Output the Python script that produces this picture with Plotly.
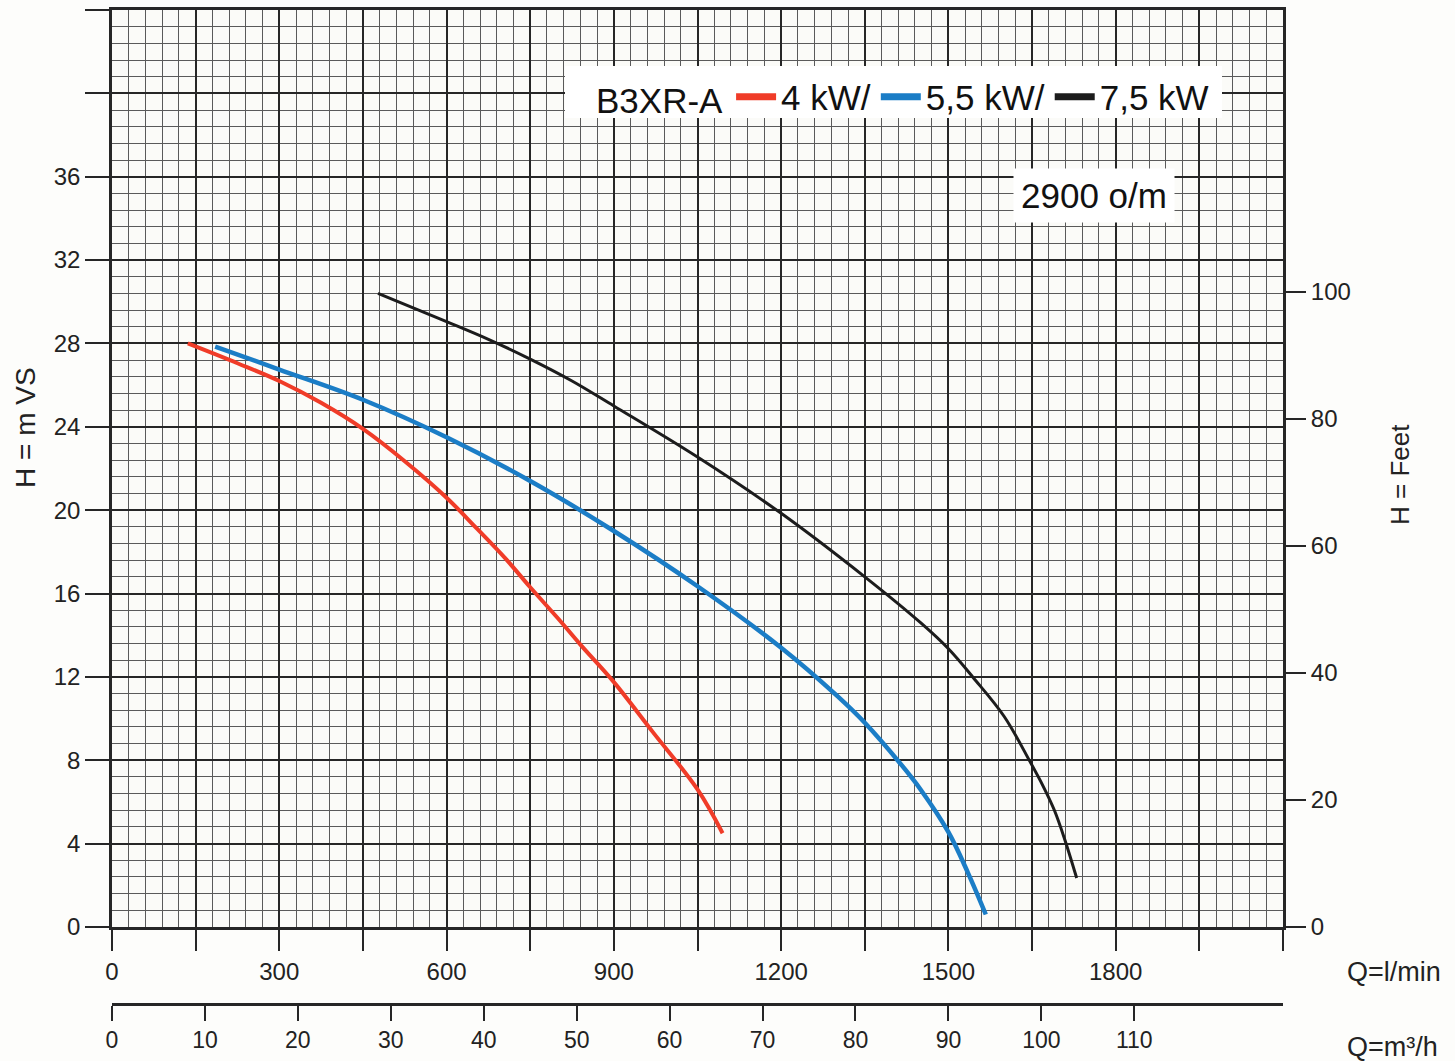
import plotly.graph_objects as go

# ---- data ----
red_q = [136, 225, 300, 375, 450, 525, 600, 655, 705, 750, 800, 840, 900, 970, 1050, 1095]
red_h = [28.0, 27.05, 26.2, 25.15, 23.9, 22.35, 20.6, 19.1, 17.7, 16.3, 14.8, 13.55, 11.75, 9.35, 6.6, 4.5]

blue_q = [185, 300, 450, 600, 750, 900, 1050, 1200, 1300, 1350, 1415, 1450, 1500, 1535, 1567]
blue_h = [27.85, 26.75, 25.3, 23.5, 21.4, 19.0, 16.35, 13.4, 11.1, 9.8, 7.8, 6.6, 4.55, 2.6, 0.6]

black_q = [477, 600, 675, 750, 825, 900, 1050, 1200, 1350, 1450, 1500, 1545, 1600, 1647, 1670, 1690, 1708, 1730]
black_h = [30.4, 29.05, 28.2, 27.25, 26.2, 25.0, 22.55, 19.85, 16.8, 14.6, 13.35, 11.95, 10.1, 7.9, 6.75, 5.6, 4.25, 2.35]

series_names = ["4 kW/", "5,5 kW/", "7,5 kW"]
series_colors = ["#f03c28", "#1b7dc6", "#1c1c1c"]
series_widths = [4, 4.5, 3]

q_ticks = list(range(0, 2101, 150))
q_labels = [str(v) if (v % 300 == 0 and v <= 1800) else "" for v in q_ticks]
h_ticks = list(range(0, 45, 4))
h_labels = [str(v) if v <= 36 else "" for v in h_ticks]
ft_ticks = [0, 20, 40, 60, 80, 100]
m3h_ticks = list(range(0, 111, 10))

Q_MAX = 2100
H_MAX = 44
M_PER_FT = 0.3048
LMIN_PER_M3H = 1000 / 60

FONT = "Liberation Sans, Arial, sans-serif"
TXT = "#222222"
MAJOR = "#262626"
MINOR = "#5a5a5a"

# pixel layout helpers (figure 1455x1061)
W, H = 1455, 1061
ML, MR, MT, MB = 112, 172, 10, 56
PW, PH = W - ML - MR, H - MT - MB


def px(xp):
    return (xp - ML) / PW


def py(yp):
    return (H - MB - yp) / PH


fig = go.Figure()
for q, h, name, col, w in zip([red_q, blue_q, black_q], [red_h, blue_h, black_h],
                              series_names, series_colors, series_widths):
    fig.add_trace(go.Scatter(x=q, y=h, name=name, mode="lines", showlegend=False,
                             line=dict(color=col, width=w, shape="spline", smoothing=1.0),
                             hoverinfo="skip"))
# legend entries (thicker swatches, like the printed legend)
for name, col in zip(series_names, series_colors):
    fig.add_trace(go.Scatter(x=[None], y=[None], name=name, mode="lines",
                             line=dict(color=col, width=7), hoverinfo="skip"))

# helper (invisible) trace so the secondary axes (m3/h, feet) are registered
fig.add_trace(go.Scatter(x=[v / LMIN_PER_M3H for v in red_q], y=[v / M_PER_FT for v in red_h],
                         xaxis="x2", yaxis="y2", mode="lines", line=dict(width=0),
                         opacity=0, showlegend=False, hoverinfo="skip"))

fig.update_layout(
    width=W, height=H,
    margin=dict(l=ML, r=MR, t=MT, b=MB, autoexpand=False),
    paper_bgcolor="#fdfdfb",
    plot_bgcolor="#fbfbf8",
    font=dict(family=FONT, size=24, color=TXT),
    showlegend=True,
    legend=dict(
        orientation="h",
        x=px(594), y=py(97), xanchor="left", yanchor="middle",
        bgcolor="rgba(255,255,255,0)", borderwidth=0,
        font=dict(family=FONT, size=35, color="#111111"),
        title=dict(text="B3XR-A", side="left", font=dict(family=FONT, size=35, color="#111111")),
        itemwidth=40, traceorder="normal",
    ),
    shapes=[
        dict(type="rect", xref="paper", yref="paper", x0=px(565), x1=px(1222), y0=py(118), y1=py(66),
             fillcolor="#ffffff", line=dict(width=0), layer="above"),
    ],
    xaxis=dict(
        range=[0, Q_MAX], domain=[0, 1], automargin=False,
        tickmode="array", tickvals=q_ticks, ticktext=q_labels,
        ticks="outside", ticklen=21, tickwidth=2, tickcolor=MAJOR,
        showgrid=True, gridcolor=MAJOR, gridwidth=2.2,
        showline=True, linecolor=MAJOR, linewidth=2.5, mirror=True,
        zeroline=False,
        minor=dict(dtick=30, tick0=0, showgrid=True, gridcolor=MINOR, gridwidth=1.2, ticks=""),
        tickfont=dict(family=FONT, size=24, color=TXT),
        fixedrange=True,
    ),
    yaxis=dict(
        range=[0, H_MAX], domain=[py(927), 1], automargin=False,
        tickmode="array", tickvals=h_ticks, ticktext=h_labels,
        ticks="outside", ticklen=24, tickwidth=2, tickcolor=MAJOR,
        showgrid=True, gridcolor=MAJOR, gridwidth=2.2,
        showline=True, linecolor=MAJOR, linewidth=2.5, mirror=True,
        zeroline=False,
        minor=dict(dtick=0.8, tick0=0, showgrid=True, gridcolor=MINOR, gridwidth=1.2, ticks=""),
        tickfont=dict(family=FONT, size=24, color=TXT),
        fixedrange=True,
    ),
    xaxis2=dict(
        overlaying="x", anchor="free", position=py(1004), side="bottom", automargin=False,
        range=[0, Q_MAX / LMIN_PER_M3H],
        tickmode="array", tickvals=m3h_ticks,
        ticks="outside", ticklen=15, tickwidth=2, tickcolor=MAJOR,
        showline=True, linecolor=MAJOR, linewidth=2.5,
        showgrid=False, zeroline=False,
        tickfont=dict(family=FONT, size=23, color=TXT),
        fixedrange=True,
    ),
    yaxis2=dict(
        overlaying="y", anchor="x", side="right", automargin=False,
        range=[0, H_MAX / M_PER_FT],
        tickmode="array", tickvals=ft_ticks,
        ticks="outside", ticklen=22, tickwidth=2, tickcolor=MAJOR,
        showline=False, showgrid=False, zeroline=False,
        tickfont=dict(family=FONT, size=24, color=TXT),
        fixedrange=True,
    ),
    annotations=[
        dict(text="2900 o/m", xref="paper", yref="paper", x=px(1094), y=py(195),
             xanchor="center", yanchor="middle", showarrow=False,
             bgcolor="#ffffff", borderpad=7,
             font=dict(family=FONT, size=35, color="#111111")),
        dict(text="H = m VS", xref="paper", yref="paper", x=px(25), y=py(428),
             xanchor="center", yanchor="middle", showarrow=False, textangle=-90,
             font=dict(family=FONT, size=28, color=TXT)),
        dict(text="H = Feet", xref="paper", yref="paper", x=px(1400), y=py(474),
             xanchor="center", yanchor="middle", showarrow=False, textangle=-90,
             font=dict(family=FONT, size=26, color=TXT)),
        dict(text="Q=l/min", xref="paper", yref="paper", x=px(1345), y=py(972),
             xanchor="left", yanchor="middle", showarrow=False,
             font=dict(family=FONT, size=27, color=TXT)),
        dict(text="Q=m³/h", xref="paper", yref="paper", x=px(1345), y=py(1047),
             xanchor="left", yanchor="middle", showarrow=False,
             font=dict(family=FONT, size=27, color=TXT)),
    ],
)

fig.write_html("out.html", config={"displayModeBar": False},
               post_script="document.body.style.margin='0';document.body.style.overflow='hidden';")
